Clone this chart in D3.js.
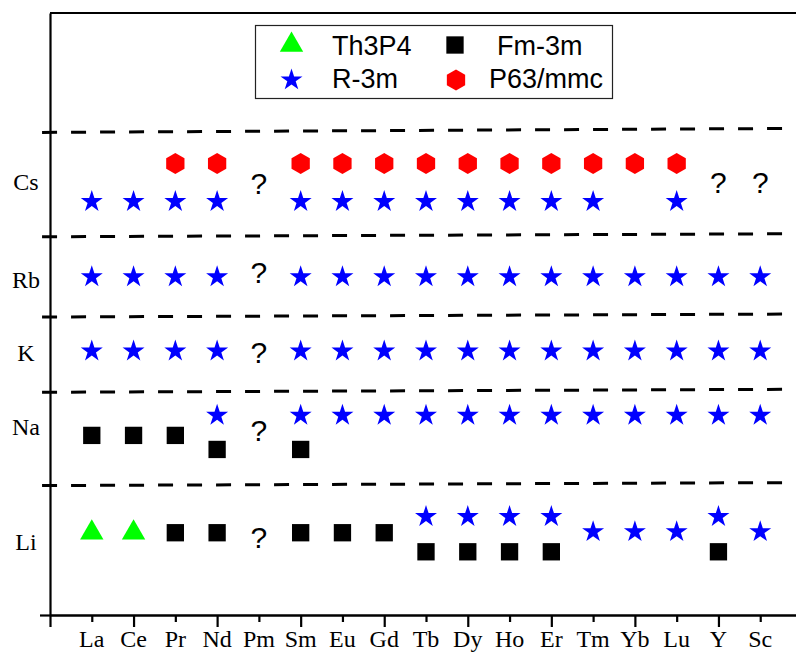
<!DOCTYPE html>
<html>
<head>
<meta charset="utf-8">
<script src="https://cdn.jsdelivr.net/npm/d3@7"></script>
<style>
  body { margin: 0; background: #fff; }
  svg { display: block; }
</style>
</head>
<body>
<svg id="chart" width="796" height="653"></svg>
<script>
// Rare-earth elements along the x axis
const elements = ["La","Ce","Pr","Nd","Pm","Sm","Eu","Gd","Tb","Dy","Ho","Er","Tm","Yb","Lu","Y","Sc"];

// Alkali metals and where their labels sit on the y axis
const alkalis = ["Cs","Rb","K","Na","Li"];
const alkaliLabelY = [4.24, 3.26, 2.53, 1.79, 0.65];

// Dashed separators between the alkali bands (value at left end, value at right end)
const separatorLeft  = [4.81, 3.77, 2.97, 2.22, 1.29];
const separatorRight = [4.85, 3.80, 3.00, 2.25, 1.32];

// Structure types: [element, y value]
const th3p4 = [["La",0.82],["Ce",0.82]];

const fm3m = [
  ["La",1.79],["Ce",1.79],["Pr",1.79],["Nd",1.65],["Sm",1.65],
  ["Pr",0.82],["Nd",0.82],["Sm",0.82],["Eu",0.82],["Gd",0.82],
  ["Tb",0.63],["Dy",0.63],["Ho",0.63],["Er",0.63],["Y",0.63]
];

const r3m = [
  // Cs
  ["La",4.12],["Ce",4.12],["Pr",4.12],["Nd",4.12],["Sm",4.12],["Eu",4.12],["Gd",4.12],
  ["Tb",4.12],["Dy",4.12],["Ho",4.12],["Er",4.12],["Tm",4.12],["Lu",4.12],
  // Rb
  ["La",3.37],["Ce",3.37],["Pr",3.37],["Nd",3.37],["Sm",3.37],["Eu",3.37],["Gd",3.37],["Tb",3.37],
  ["Dy",3.37],["Ho",3.37],["Er",3.37],["Tm",3.37],["Yb",3.37],["Lu",3.37],["Y",3.37],["Sc",3.37],
  // K
  ["La",2.63],["Ce",2.63],["Pr",2.63],["Nd",2.63],["Sm",2.63],["Eu",2.63],["Gd",2.63],["Tb",2.63],
  ["Dy",2.63],["Ho",2.63],["Er",2.63],["Tm",2.63],["Yb",2.63],["Lu",2.63],["Y",2.63],["Sc",2.63],
  // Na
  ["Nd",1.99],["Sm",1.99],["Eu",1.99],["Gd",1.99],["Tb",1.99],["Dy",1.99],["Ho",1.99],
  ["Er",1.99],["Tm",1.99],["Yb",1.99],["Lu",1.99],["Y",1.99],["Sc",1.99],
  // Li
  ["Tb",0.98],["Dy",0.98],["Ho",0.98],["Er",0.98],["Y",0.98],
  ["Tm",0.83],["Yb",0.83],["Lu",0.83],["Sc",0.83]
];

const p63mmc = [
  ["Pr",4.50],["Nd",4.50],["Sm",4.50],["Eu",4.50],["Gd",4.50],["Tb",4.50],["Dy",4.50],
  ["Ho",4.50],["Er",4.50],["Tm",4.50],["Yb",4.50],["Lu",4.50]
];

// Compounds with unknown structure
const unknown = [
  ["Pm",4.30],["Y",4.31],["Sc",4.31],
  ["Pm",3.42],["Pm",2.62],["Pm",1.84],["Pm",0.78]
];

const legendItems = [
  { name: "Th3P4",   shape: "triangle", color: "#00ff00" },
  { name: "Fm-3m",   shape: "square",   color: "#000000" },
  { name: "R-3m",    shape: "star",     color: "#0000ff" },
  { name: "P63/mmc", shape: "hexagon",  color: "#ff0000" }
];

// ---- layout ----
const svg = d3.select("#chart");
const x = d3.scaleLinear().domain([0, 18]).range([50, 802]);
const y = d3.scaleLinear().domain([0, 6]).range([615, 13]);
const xPos = el => x(elements.indexOf(el) + 1);

// pointy-top hexagon
const symbolHexagon = {
  draw(ctx, size) {
    const r = Math.sqrt(size / (1.5 * Math.sqrt(3)));
    for (let i = 0; i < 6; i++) {
      const a = -Math.PI / 2 + i * Math.PI / 3;
      const px = r * Math.cos(a), py = r * Math.sin(a);
      if (i === 0) ctx.moveTo(px, py); else ctx.lineTo(px, py);
    }
    ctx.closePath();
  }
};
const shapes = {
  triangle: d3.symbol(d3.symbolTriangle, 236),
  square:   d3.symbol(d3.symbolSquare, 300),
  star:     d3.symbol(d3.symbolStar, 150),
  hexagon:  d3.symbol(symbolHexagon, 290)
};

// ---- separators (start just left of the axis, run past the right edge) ----
svg.append("g").selectAll("line")
  .data(separatorLeft)
  .join("line")
  .attr("x1", x(-0.19))
  .attr("x2", x(18))
  .attr("y1", d => y(d))
  .attr("y2", (d, i) => y(separatorRight[i]))
  .attr("stroke", "#000")
  .attr("stroke-width", 3)
  .attr("stroke-dasharray", "15,14");

// ---- axes ----
const axisG = svg.append("g").attr("class", "axes");

const xMajor = d3.axisBottom(x).tickValues(d3.range(0, 19, 2)).tickSize(12).tickSizeOuter(0).tickFormat("");
const xMinor = d3.axisBottom(x).tickValues(d3.range(1, 19, 2)).tickSize(7).tickSizeOuter(0).tickFormat("");
axisG.append("g").attr("transform", `translate(0,${y(0)})`).call(xMajor);
axisG.append("g").attr("transform", `translate(0,${y(0)})`).call(xMinor);

const yAxis = d3.axisLeft(y).tickValues([0]).tickSize(10).tickSizeOuter(0).tickFormat("");
axisG.append("g").attr("transform", `translate(${x(0)},0)`).call(yAxis);

axisG.append("line")
  .attr("x1", x(0)).attr("x2", x(18))
  .attr("y1", y(6)).attr("y2", y(6));

axisG.selectAll("path.domain, line")
  .attr("stroke", "#000")
  .attr("stroke-width", 2.2);

// category labels
svg.append("g").selectAll("text")
  .data(elements)
  .join("text")
  .attr("x", (d, i) => x(i + 1))
  .attr("y", 647)
  .attr("text-anchor", "middle")
  .attr("font-family", "'Liberation Serif', 'Times New Roman', serif")
  .attr("font-size", 24)
  .text(d => d);

// alkali labels
svg.append("g").selectAll("text")
  .data(alkalis)
  .join("text")
  .attr("x", 26)
  .attr("y", (d, i) => y(alkaliLabelY[i]))
  .attr("text-anchor", "middle")
  .attr("font-family", "'Liberation Serif', 'Times New Roman', serif")
  .attr("font-size", 24)
  .text(d => d);

// ---- markers ----
function drawSeries(data, shape, color) {
  svg.append("g").selectAll("path")
    .data(data)
    .join("path")
    .attr("transform", d => `translate(${xPos(d[0])},${y(d[1])})`)
    .attr("d", shapes[shape]())
    .attr("fill", color);
}
drawSeries(p63mmc, "hexagon", "#ff0000");
drawSeries(r3m, "star", "#0000ff");
drawSeries(fm3m, "square", "#000000");
drawSeries(th3p4, "triangle", "#00ff00");

svg.append("g").selectAll("text")
  .data(unknown)
  .join("text")
  .attr("x", d => xPos(d[0]))
  .attr("y", d => y(d[1]))
  .attr("dy", "0.36em")
  .attr("text-anchor", "middle")
  .attr("font-family", "'Liberation Sans', Arial, sans-serif")
  .attr("font-size", 30)
  .text("?");

// ---- legend ----
const legend = svg.append("g");
legend.append("rect")
  .attr("x", 255.5).attr("y", 25.5)
  .attr("width", 357).attr("height", 73)
  .attr("fill", "#fff")
  .attr("stroke", "#222")
  .attr("stroke-width", 1.2);

const legendSymbolX = [291.5, 455, 291.5, 456];
const legendRowY = [45, 80];
const legendTextX = [332, 497, 332, 489];
const legendTextY = [55, 88];

legendItems.forEach((it, i) => {
  const row = Math.floor(i / 2);
  legend.append("path")
    .attr("transform", `translate(${legendSymbolX[i]},${legendRowY[row]})`)
    .attr("d", shapes[it.shape]())
    .attr("fill", it.color);
  legend.append("text")
    .attr("x", legendTextX[i])
    .attr("y", legendTextY[row])
    .attr("font-family", "'Liberation Sans', Arial, sans-serif")
    .attr("font-size", 27)
    .text(it.name);
});
</script>
</body>
</html>
